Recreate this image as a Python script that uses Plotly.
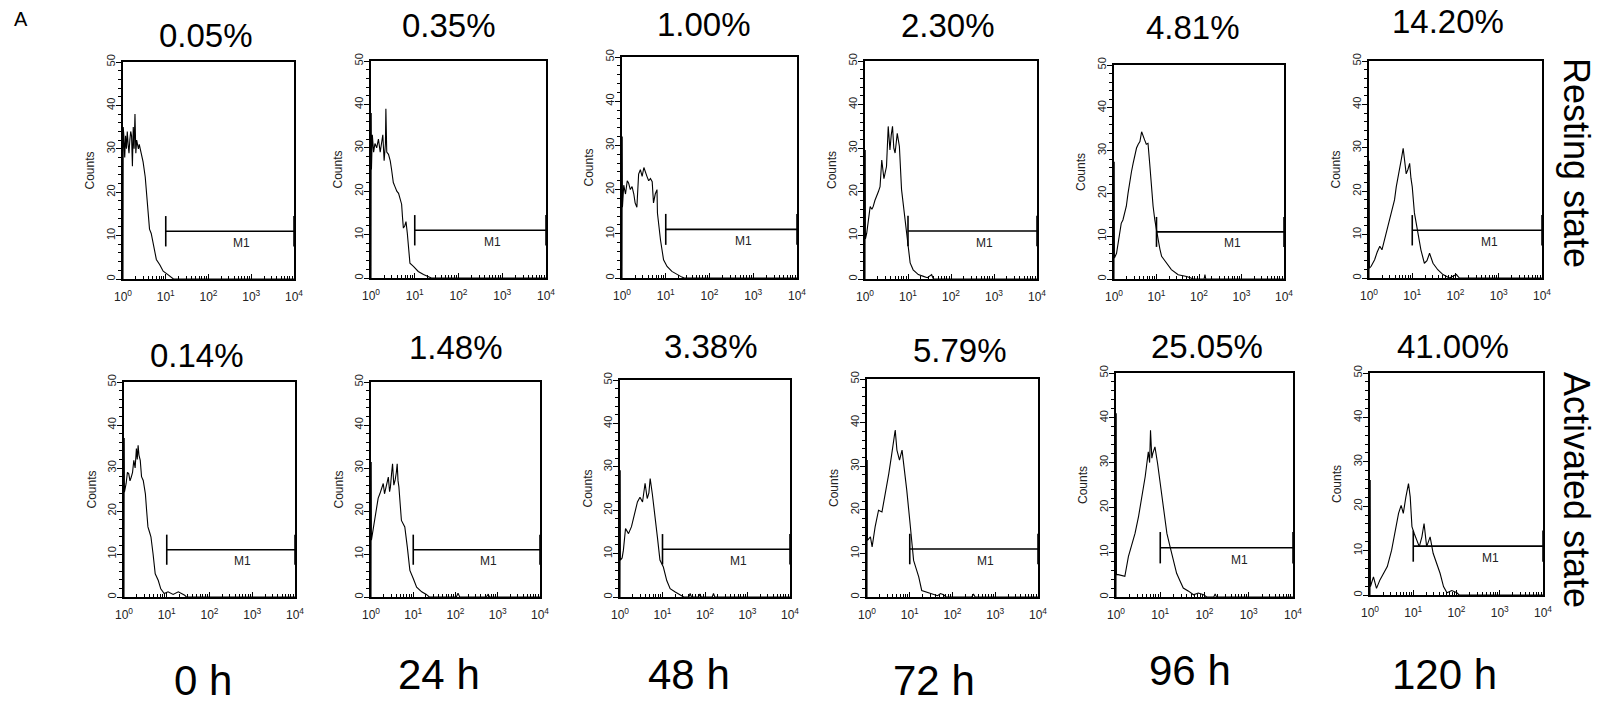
import plotly.graph_objects as go

# ---------------- data (log10 fluorescence exponent, counts) ----------------
timepoints = ["0 h", "24 h", "48 h", "72 h", "96 h", "120 h"]
rest_pct = ["0.05%", "0.35%", "1.00%", "2.30%", "4.81%", "14.20%"]
act_pct = ["0.14%", "1.48%", "3.38%", "5.79%", "25.05%", "41.00%"]
row_labels = ["Resting state", "Activated state"]

rest_0h_e = [0, 0.005, 0.01, 0.02, 0.04, 0.06, 0.08, 0.10, 0.12, 0.14, 0.16, 0.18, 0.20, 0.22, 0.24, 0.26, 0.28, 0.30, 0.32, 0.34, 0.36, 0.38, 0.40, 0.43, 0.47, 0.52, 0.56, 0.59, 0.62, 0.66, 0.72, 0.78, 0.86, 0.94, 1.05, 1.13, 1.18, 4.0]
rest_0h_c = [0, 35, 20, 33, 28, 33, 30, 34, 31, 29, 32, 34, 33, 26, 35, 30, 38, 29, 32, 31, 30, 31, 30, 29, 27, 23.5, 19, 16.5, 11.5, 10.5, 7.5, 4.5, 3.3, 1.8, 1, 0.4, 0, 0]

rest_24h_e = [0, 0.005, 0.01, 0.03, 0.06, 0.09, 0.13, 0.17, 0.21, 0.24, 0.27, 0.30, 0.33, 0.34, 0.36, 0.40, 0.44, 0.47, 0.51, 0.55, 0.59, 0.63, 0.67, 0.70, 0.72, 0.74, 0.77, 0.80, 0.83, 0.86, 0.89, 0.97, 1.08, 1.20, 1.31, 1.38, 4.0]
rest_24h_c = [0, 38, 25, 33, 29, 31, 30, 32, 29, 31, 33, 27, 31, 39, 29, 28.5, 27, 25, 22, 21, 20, 19.5, 18, 17, 14, 11.5, 12, 13, 10.3, 6, 3.4, 2.7, 1.5, 0.8, 0.4, 0, 0]

rest_48h_e = [0, 0.005, 0.01, 0.04, 0.08, 0.12, 0.15, 0.19, 0.23, 0.27, 0.30, 0.34, 0.36, 0.38, 0.42, 0.46, 0.50, 0.53, 0.57, 0.61, 0.65, 0.69, 0.72, 0.76, 0.80, 0.81, 0.84, 0.88, 0.95, 1.03, 1.14, 1.26, 1.37, 1.42, 4.0]
rest_48h_c = [0, 32, 16, 21, 19, 22, 21.5, 20, 20.7, 19, 17, 16, 19, 23.5, 24.5, 23, 25, 24, 23, 22, 22.5, 21.8, 17, 19, 20, 14.7, 12, 8.6, 4.1, 2.6, 1.5, 0.75, 0.2, 0, 0]

rest_72h_e = [0, 0.005, 0.01, 0.04, 0.08, 0.12, 0.16, 0.19, 0.23, 0.27, 0.31, 0.35, 0.39, 0.44, 0.50, 0.54, 0.58, 0.61, 0.64, 0.67, 0.70, 0.75, 0.80, 0.85, 0.89, 0.93, 0.98, 1.05, 1.12, 1.24, 1.36, 1.45, 1.55, 1.59, 4.0]
rest_72h_c = [0, 29.6, 9.2, 10.5, 14, 16.6, 16, 16.6, 18, 18.9, 20, 21.2, 27.3, 23, 25.8, 35, 29.6, 33, 35, 30, 28.9, 33.4, 30.4, 20.5, 17, 14.4, 9, 3.7, 2.1, 1, 0.6, 0.3, 1, 0, 0]

rest_96h_e = [0, 0.005, 0.01, 0.06, 0.10, 0.13, 0.17, 0.21, 0.25, 0.29, 0.33, 0.37, 0.41, 0.45, 0.49, 0.53, 0.57, 0.61, 0.65, 0.69, 0.72, 0.76, 0.80, 0.84, 0.88, 0.92, 0.96, 1.00, 1.04, 1.08, 1.12, 1.18, 1.24, 1.35, 1.51, 1.71, 1.87, 2.12, 2.14, 2.16, 4.0]
rest_96h_c = [0, 27.4, 4.9, 6, 9, 10.7, 13, 13.8, 15.5, 17, 20, 23.2, 25, 27, 29, 30.6, 31.5, 32.1, 34.4, 33, 32.5, 31.5, 31.7, 27, 21.6, 17, 13.8, 11, 9.2, 7, 5.3, 4.5, 3.7, 2.2, 1, 0.6, 0, 0, 1, 0, 0]

rest_120h_e = [0, 0.005, 0.01, 0.05, 0.13, 0.19, 0.25, 0.30, 0.36, 0.42, 0.48, 0.55, 0.59, 0.63, 0.67, 0.71, 0.75, 0.79, 0.82, 0.86, 0.90, 0.94, 0.97, 1.00, 1.05, 1.13, 1.20, 1.28, 1.34, 1.40, 1.48, 1.59, 1.71, 1.86, 2.02, 2.09, 4.0]
rest_120h_c = [0, 27, 2.3, 2.7, 4.2, 6, 7.3, 6.5, 8.8, 11, 13.4, 16.5, 18, 21, 23, 25.7, 27.5, 29.9, 27, 24, 25, 26.4, 23, 21, 15, 10.3, 6.5, 3.4, 4, 5.7, 3.4, 1.9, 0.8, 0, 0.8, 0, 0]

act_0h_e = [0, 0.005, 0.01, 0.05, 0.08, 0.11, 0.14, 0.17, 0.20, 0.23, 0.26, 0.29, 0.31, 0.33, 0.35, 0.38, 0.41, 0.45, 0.50, 0.53, 0.56, 0.60, 0.63, 0.68, 0.73, 0.80, 0.86, 0.94, 1.03, 1.15, 1.27, 1.42, 1.46, 4.0]
act_0h_c = [0, 37, 24.4, 26.4, 29, 28.7, 27, 27.9, 29, 31.8, 30, 34.5, 32, 35.3, 33, 31.8, 28, 27.1, 24, 20, 16.3, 15, 14, 10, 5.4, 3.9, 1.9, 0.8, 1.2, 0.6, 1.2, 0.4, 0, 0]

act_24h_e = [0, 0.005, 0.01, 0.06, 0.10, 0.13, 0.17, 0.21, 0.25, 0.29, 0.32, 0.35, 0.38, 0.41, 0.44, 0.46, 0.49, 0.51, 0.54, 0.57, 0.60, 0.62, 0.64, 0.66, 0.72, 0.80, 0.86, 0.92, 1.00, 1.08, 1.20, 1.31, 1.38, 2.02, 2.06, 2.10, 2.73, 2.77, 2.81, 4.0]
act_24h_c = [0, 31.4, 13.2, 16.3, 19, 20.9, 23, 24, 25.5, 26.4, 24, 25.2, 27, 27.9, 24.5, 25.6, 29, 31, 26, 27.1, 29, 31, 27, 25.6, 17.8, 16.3, 11.6, 6.2, 4.3, 2.3, 1.2, 0.6, 0, 0, 0.9, 0, 0, 0.6, 0, 0]

act_48h_e = [0, 0.005, 0.01, 0.05, 0.08, 0.13, 0.20, 0.27, 0.31, 0.35, 0.41, 0.47, 0.53, 0.59, 0.64, 0.68, 0.71, 0.76, 0.82, 0.88, 0.94, 1.02, 1.10, 1.18, 1.29, 1.41, 1.50, 1.62, 1.65, 1.68, 1.85, 1.88, 1.91, 2.17, 2.20, 2.23, 4.0]
act_48h_c = [0, 29.2, 8.5, 9, 10.8, 15.8, 14.6, 16.2, 18, 20, 21.9, 23, 21.9, 26.2, 22.7, 24, 27.3, 23.8, 19.2, 13.8, 8.5, 6.9, 3.8, 1.9, 1.2, 0.4, 0, 0, 0.8, 0, 0, 0.7, 0, 0, 0.8, 0, 0]

act_72h_e = [0, 0.005, 0.01, 0.08, 0.12, 0.19, 0.27, 0.35, 0.43, 0.51, 0.57, 0.62, 0.66, 0.70, 0.76, 0.82, 0.87, 0.93, 1.00, 1.05, 1.09, 1.15, 1.21, 1.28, 1.40, 1.56, 1.65, 1.72, 1.79, 1.85, 2.45, 2.49, 2.53, 4.0]
act_72h_c = [0, 31.4, 13, 13.8, 11.5, 16.1, 19.9, 19.5, 23.7, 28.3, 32.2, 36, 38.3, 33.7, 31.4, 33.7, 29.9, 24.5, 17.6, 13, 8.4, 6.5, 4.6, 1.5, 1.1, 0.6, 0.3, 0.8, 0.5, 0, 0, 0.7, 0, 0]

act_96h_e = [0, 0.005, 0.01, 0.05, 0.20, 0.28, 0.35, 0.43, 0.51, 0.58, 0.66, 0.73, 0.76, 0.78, 0.81, 0.83, 0.88, 0.94, 1.00, 1.07, 1.15, 1.22, 1.30, 1.37, 1.45, 1.52, 1.64, 1.75, 1.86, 1.98, 2.05, 2.21, 2.24, 2.27, 4.0]
act_96h_c = [0, 41, 5, 5, 4.6, 9, 11.3, 14.2, 18, 22.4, 26.9, 32.4, 30, 37.2, 31, 32, 33.5, 29.8, 25.4, 19.4, 14.2, 11.3, 8.3, 5.3, 3.5, 2, 1.3, 0.5, 0.9, 0.5, 0, 0, 0.7, 0, 0]

act_120h_e = [0, 0.005, 0.01, 0.08, 0.15, 0.23, 0.31, 0.40, 0.50, 0.58, 0.66, 0.72, 0.77, 0.83, 0.89, 0.93, 0.97, 1.02, 1.08, 1.14, 1.20, 1.25, 1.31, 1.39, 1.46, 1.54, 1.62, 1.70, 1.78, 1.89, 2.01, 2.06, 4.0]
act_120h_c = [0, 25.9, 1.9, 4.1, 1.5, 3.4, 4.9, 6.4, 10.1, 13.9, 18.4, 20.2, 18.4, 22.1, 25.1, 22.1, 15.4, 13.9, 12.4, 10.9, 13.1, 16.1, 10.9, 13.1, 9.4, 7.1, 4.9, 1.9, 0.5, 1, 0.5, 0, 0]

# M1 gate (fluorescence from 10^1 to 10^4)
gate_start = 10
gate_end = 10000
gate_level = 11

x_tick_vals = [1, 10, 100, 1000, 10000]
x_tick_text = ["10<sup>0</sup>", "10<sup>1</sup>", "10<sup>2</sup>", "10<sup>3</sup>", "10<sup>4</sup>"]
y_tick_vals = [0, 10, 20, 30, 40, 50]

panels = [
    (rest_0h_e, rest_0h_c), (rest_24h_e, rest_24h_c), (rest_48h_e, rest_48h_c),
    (rest_72h_e, rest_72h_c), (rest_96h_e, rest_96h_c), (rest_120h_e, rest_120h_c),
    (act_0h_e, act_0h_c), (act_24h_e, act_24h_c), (act_48h_e, act_48h_c),
    (act_72h_e, act_72h_c), (act_96h_e, act_96h_c), (act_120h_e, act_120h_c),
]

# ---------------- layout geometry (window pixels) ----------------
W, H = 1606, 709
boxes = [  # left, right, top, bottom
    (123, 294, 62, 279), (371, 546, 61, 278), (622, 797, 57, 278),
    (865, 1037, 61, 279), (1114, 1284, 65, 279), (1369, 1542, 61, 278),
    (124, 295, 382, 597), (371, 540, 382, 597), (620, 790, 380, 597),
    (867, 1038, 379, 597), (1116, 1293, 373, 597), (1370, 1543, 373, 595),
]
pct_pos = [(206, 35), (449, 26), (704, 25), (948, 26), (1193, 27), (1448, 22),
           (197, 355), (456, 347), (711, 346), (960, 350), (1207, 346), (1453, 346)]
time_pos = [(203, 680), (439, 674), (689, 674), (934, 680), (1190, 670), (1444, 674)]
row_pos = [(1576, 163), (1577, 490)]

FONT = "Liberation Sans, Arial, sans-serif"
minor_x = [m * 10 ** k for k in range(4) for m in range(2, 10)]

fig = go.Figure()
layout = dict(
    width=W, height=H, autosize=False,
    margin=dict(l=0, r=0, t=0, b=0, pad=0, autoexpand=False),
    paper_bgcolor="white", plot_bgcolor="white",
    showlegend=False, font=dict(family=FONT, color="black"),
)
annotations = []

def px_x(x):
    return x / W

def px_y(y):
    return 1 - y / H

def ann(x, y, text, size, angle=0, family=FONT, color="black", xref="paper", yref="paper"):
    return dict(x=x, y=y, xref=xref, yref=yref, text=text, showarrow=False,
                textangle=angle, xanchor="center", yanchor="middle",
                font=dict(size=size, family=family, color=color))

for i, ((es, cs), (l, r, t, b)) in enumerate(zip(panels, boxes)):
    k = i + 1
    xs = "" if k == 1 else str(k)
    layout["xaxis" + xs] = dict(
        type="log", range=[0, 4], domain=[px_x(l), px_x(r)], anchor="y" + xs,
        automargin=False,
        showline=True, mirror=True, linecolor="black", linewidth=1.8,
        showgrid=False, zeroline=False,
        tickmode="array", tickvals=x_tick_vals, ticktext=x_tick_text,
        ticks="inside", ticklen=5, tickwidth=1.2, tickcolor="black",
        tickfont=dict(size=12, color="#222", family=FONT), ticklabelstandoff=6,
        minor=dict(tickmode="array", tickvals=minor_x, ticks="inside", ticklen=3,
                   tickwidth=1, tickcolor="black", showgrid=False),
    )
    layout["yaxis" + xs] = dict(
        range=[0, 50], domain=[px_y(b), px_y(t)], anchor="x" + xs,
        automargin=False,
        showline=True, mirror=True, linecolor="black", linewidth=1.8,
        showgrid=False, zeroline=False,
        tickmode="array", tickvals=y_tick_vals, tickangle=-90,
        ticks="outside", ticklen=5, tickwidth=1.2, tickcolor="black",
        tickfont=dict(size=11, color="#222", family=FONT), ticklabelstandoff=-3,
        minor=dict(tickmode="linear", tick0=0, dtick=2, ticks="outside", ticklen=3,
                   tickwidth=1, tickcolor="black", showgrid=False),
    )
    # histogram
    fig.add_trace(go.Scatter(
        x=[10 ** e for e in es], y=cs, mode="lines",
        line=dict(color="black", width=1.1), xaxis="x" + xs, yaxis="y" + xs,
        hoverinfo="skip",
    ))
    # M1 gate
    fig.add_trace(go.Scatter(
        x=[gate_start, gate_start, None, gate_start, gate_end, None, gate_end, gate_end],
        y=[gate_level - 3.5, gate_level + 3.5, None, gate_level, gate_level, None,
           gate_level - 3.5, gate_level + 3.5],
        mode="lines", line=dict(color="black", width=1.6),
        xaxis="x" + xs, yaxis="y" + xs, hoverinfo="skip", cliponaxis=False,
    ))
    annotations.append(ann(2.78, gate_level - 2.7, "M1", 12, color="#222",
                           xref="x" + xs, yref="y" + xs))
    annotations.append(ann(px_x(l - 33), px_y((t + b) / 2), "Counts", 12,
                           angle=-90, color="#222"))

pct_labels = rest_pct + act_pct
for txt, (x, y) in zip(pct_labels, pct_pos):
    annotations.append(ann(px_x(x), px_y(y), txt, 33))

for txt, (x, y) in zip(timepoints, time_pos):
    annotations.append(ann(px_x(x), px_y(y), txt, 42))

for txt, (x, y) in zip(row_labels, row_pos):
    annotations.append(ann(px_x(x), px_y(y), txt, 36, angle=90))

annotations.append(ann(px_x(21), px_y(19), "A", 20))

layout["annotations"] = annotations
fig.update_layout(**layout)
fig.write_html(
    "out.html",
    config={"displayModeBar": False},
    post_script="document.body.style.margin='0px';document.body.style.overflow='hidden';",
)
